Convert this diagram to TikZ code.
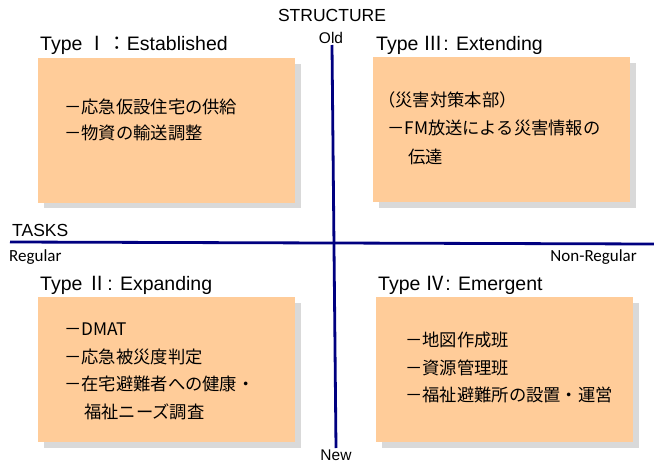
\documentclass[tikz,border=0pt]{standalone}
\usepackage{fontspec}
\setmainfont{Liberation Sans}
\newfontfamily\jp{Noto Sans CJK JP}
\newfontfamily\jpn{Noto Sans CJK JP}
\newfontfamily\carfont{Carlito}
\definecolor{peach}{HTML}{FFCC99}
\definecolor{shade}{HTML}{D9D9D9}
\definecolor{navy}{HTML}{000080}
\begin{document}
\begin{tikzpicture}[x=1pt,y=-1pt,
  box/.style={fill=peach},
  shadowbox/.style={fill=shade},
  axis/.style={draw=navy,line width=2.8pt},
  ttl/.style={anchor=west,inner sep=0pt,font=\fontsize{19.5}{22}\selectfont},
  itm/.style={anchor=west,inner sep=0pt,font=\jp\fontsize{17.3}{20}\selectfont},
  lbl/.style={inner sep=0pt,font=\carfont\fontsize{17}{20}\selectfont},
  ol/.style={inner sep=0pt,font=\fontsize{15.5}{18}\selectfont},
  axl/.style={inner sep=0pt,font=\fontsize{17.5}{20}\selectfont}]
\useasboundingbox (0,0) rectangle (654,463);
% shadows
\fill[shadowbox] (44,64) rectangle (301,208);
\fill[shadowbox] (379,63) rectangle (636,208);
\fill[shadowbox] (44,303) rectangle (301,448);
\fill[shadowbox] (382,303) rectangle (639,448);
% boxes
\node[box,draw=none,minimum width=257pt,minimum height=145pt,anchor=north west,inner sep=0pt] (b1) at (38,58) {};
\node[box,draw=none,minimum width=257pt,minimum height=145pt,anchor=north west,inner sep=0pt] (b3) at (373,57) {};
\node[box,draw=none,minimum width=257pt,minimum height=145pt,anchor=north west,inner sep=0pt] (b2) at (38,297) {};
\node[box,draw=none,minimum width=257pt,minimum height=145pt,anchor=north west,inner sep=0pt] (b4) at (376,297) {};
% axis labels
\node[axl] (st) at (332,15) {STRUCTURE};
\node[ol] (old) at (331,38) {Old};
\node[ol,anchor=base] (new) at (336,460) {New};
\node[axl,anchor=west] (tasks) at (12,230) {TASKS};
\node[lbl,anchor=west] (reg) at (9,257) {Regular};
\node[lbl,anchor=east] (nreg) at (637,257) {Non-Regular};
% axes
\coordinate (vt) at (332,45);
\coordinate (vb) at (336,448);
\coordinate (hl) at (10,242);
\coordinate (hr) at (654,244);
\draw[axis] (vt) -- (vb);
\draw[axis] (hl) -- (hr);
% titles
\node[ttl] (t1) at (40,45) {Type {\jpn Ⅰ：}Established};
\node[ttl] (t3) at (376,45) {Type {\jpn Ⅲ}: Extending};
\node[ttl] (t2) at (40,285) {Type {\jpn Ⅱ}: Expanding};
\node[ttl] (t4) at (378,285) {Type {\jpn Ⅳ}: Emergent};
% items
\node[itm] at (64,107) {－応急仮設住宅の供給};
\node[itm] at (64,133) {－物資の輸送調整};
\node[itm] at (378,100) {（災害対策本部）};
\node[itm] at (387,128) {－FM放送による災害情報の};
\node[itm] at (408,157) {伝達};
\node[itm] at (64,329) {－DMAT};
\node[itm] at (64,357) {－応急被災度判定};
\node[itm] at (64,384) {－在宅避難者への健康・};
\node[itm] at (84,412) {福祉ニーズ調査};
\node[itm] at (405,340) {－地図作成班};
\node[itm] at (405,368) {－資源管理班};
\node[itm] at (405,395) {－福祉避難所の設置・運営};
\end{tikzpicture}
\end{document}
